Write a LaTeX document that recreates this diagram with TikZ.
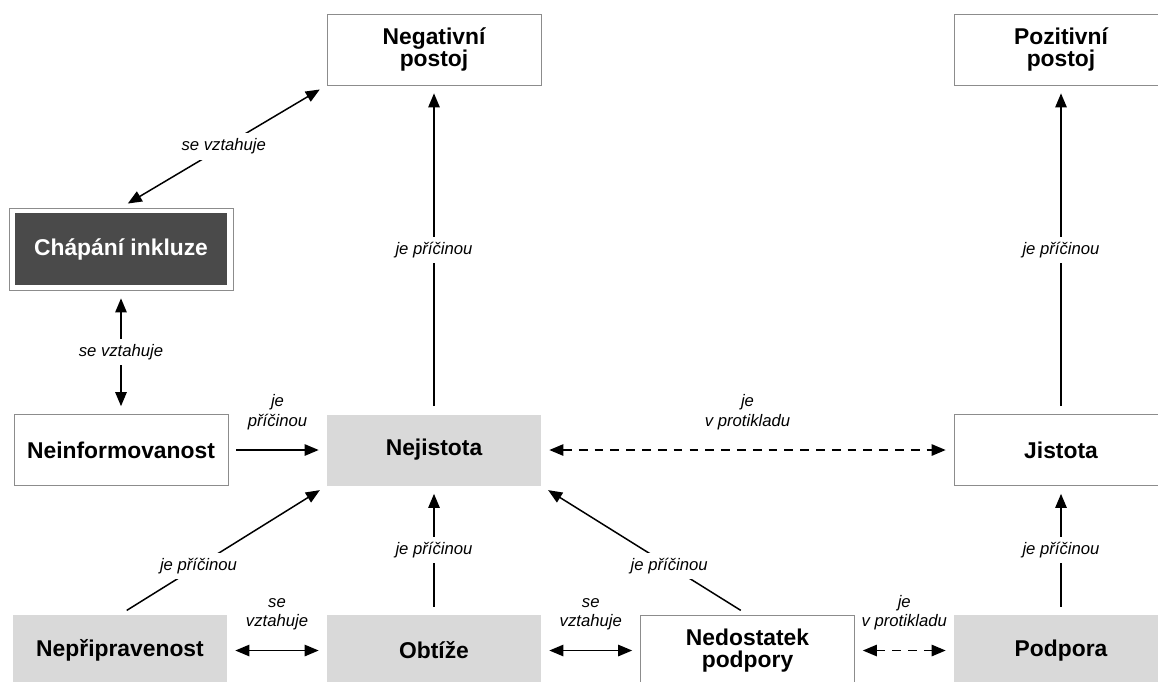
\documentclass[tikz,border=0pt]{standalone}
\usepackage{fontspec}
\setmainfont{Liberation Sans}
\usetikzlibrary{arrows.meta, positioning}
\definecolor{boxgray}{HTML}{D9D9D9}
\definecolor{darkbox}{HTML}{4A4A4A}
\definecolor{rimgray}{HTML}{8C8C8C}
\tikzset{
    concept/.style={rectangle, draw=rimgray, line width=0.5pt, fill=white, minimum width=4.28cm, minimum height=1.42cm, align=center, font=\fontsize{13}{12.5}\selectfont\bfseries},
    greyconcept/.style={concept, draw=none, fill=boxgray},
    darkconcept/.style={concept, draw=none, fill=darkbox, text=white, minimum width=4.26cm, minimum height=1.44cm},
    rim/.style={rectangle, draw=rimgray, line width=0.5pt, fill=white, minimum width=4.48cm, minimum height=1.64cm},
    >={Triangle[length=8pt,width=6.5pt]},
    link/.style={->, line width=0.85pt, shorten <=4.5pt, shorten >=4.5pt},
    twoway/.style={link, <->},
    opposite/.style={twoway, dash pattern=on 5pt off 4pt},
    lbl/.style={fill=white, inner sep=3pt, align=center, font=\fontsize{9.5}{11.3}\selectfont\itshape},
}
\begin{document}
\begin{tikzpicture}[x=0.02cm, y=-0.02cm]
    \clip (0,0) rectangle (1158,681);

    % top row
    \node[concept] (neg) at (434,49.5) {Negativní\\postoj};
    \node[concept] (poz) at (1061,49.5) {Pozitivní\\postoj};

    % framed dark box
    \node[rim] (chapfrm) at (121,249) {};
    \node[darkconcept] (chap) at (121,249) {Chápání inkluze};

    % middle row
    \node[concept] (neinf) at (121,450) {Neinformovanost};
    \node[greyconcept] (nejist) at (434,450) {Nejistota};
    \node[concept] (jist) at (1061,450) {Jistota};

    % bottom row
    \node[greyconcept] (nepr) at (120,650.5) {Nepřipravenost};
    \node[greyconcept] (obt) at (434,650.5) {Obtíže};
    \node[concept] (nedost) at (747.5,650.5) {Nedostatek\\podpory};
    \node[greyconcept] (podp) at (1061,650.5) {Podpora};

    % je příčinou
    \draw[link] (nejist) -- node[lbl] {je příčinou} (neg);
    \draw[link] (jist) -- node[lbl] {je příčinou} (poz);
    \draw[link] (obt) -- node[lbl] {je příčinou} (nejist);
    \draw[link] (podp) -- node[lbl] {je příčinou} (jist);
    \draw[link] (nepr.north) -- node[lbl, pos=0.38] {je příčinou} (nejist.south west);
    \draw[link] (nedost.north) -- node[lbl, pos=0.38] {je příčinou} (nejist.south east);
    \draw[link] (neinf) -- node[lbl, above=8pt] {je\\příčinou} (nejist);

    % se vztahuje
    \draw[twoway] (neg.south west) -- node[lbl] {se vztahuje} (chapfrm.north);
    \draw[twoway] (chapfrm) -- node[lbl] {se vztahuje} (neinf);
    \draw[twoway] (nepr) -- node[lbl, above=8pt] {se\\vztahuje} (obt);
    \draw[twoway] (obt) -- node[lbl, above=8pt] {se\\vztahuje} (nedost);

    % je v protikladu
    \draw[opposite] (nejist) -- node[lbl, above=8pt] {je\\v protikladu} (jist);
    \draw[opposite] (nedost) -- node[lbl, above=8pt] {je\\v protikladu} (podp);
\end{tikzpicture}
\end{document}
